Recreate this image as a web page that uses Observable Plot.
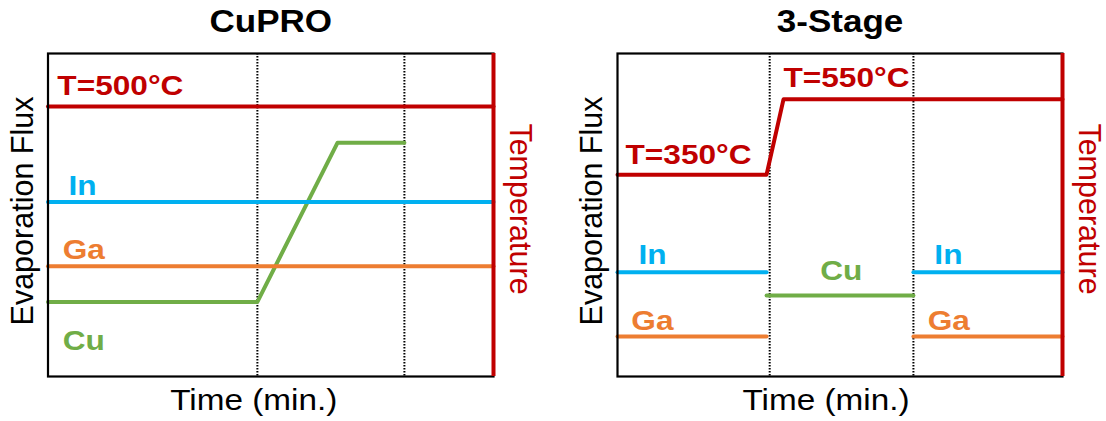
<!DOCTYPE html>
<html><head><meta charset="utf-8">
<script src="https://cdn.jsdelivr.net/npm/d3@7"></script>
<script src="https://cdn.jsdelivr.net/npm/@observablehq/plot@0.6"></script>
<style>
body{margin:0;background:#fff;}
#wrap{display:flex;width:1106px;height:421px;}
#wrap svg{display:block;}
</style></head><body><div id="wrap"></div>
<script>
const RED = "#C00000", BLUE = "#00B0F0", ORANGE = "#ED7D31", GREEN = "#70AD47";
const seriesNames = ["T", "In", "Ga", "Cu"];
const seriesColors = [RED, BLUE, ORANGE, GREEN];

// ---- CuPRO panel ----
const cuproStages = [47, 80];
const cuproTemp = [{t: 0, v: 83.6}, {t: 100, v: 83.6}];
const cuproIn = [{t: 0, v: 54.0}, {t: 100, v: 54.0}];
const cuproGa = [{t: 0, v: 34.1}, {t: 100, v: 34.1}];
const cuproCu = [{t: 0, v: 23.1}, {t: 47, v: 23.1}, {t: 65, v: 72.4}, {t: 80, v: 72.4}];
const cuproLabels = [
  {t: 2.1, v: 89.8, s: "T", text: "T=500°C", anchor: "start"},
  {t: 4.6, v: 59.1, s: "In", text: "In", anchor: "start"},
  {t: 3.3, v: 39.3, s: "Ga", text: "Ga", anchor: "start"},
  {t: 3.3, v: 11.1, s: "Cu", text: "Cu", anchor: "start"}
];

// ---- 3-Stage panel ----
const stageStages = [34.2, 66.5];
const stageTemp = [{t: 0, v: 62.5}, {t: 33.5, v: 62.5}, {t: 37.3, v: 85.8}, {t: 100, v: 85.8}];
const stageIn = [{seg: 1, t: 0, v: 32.3}, {seg: 1, t: 33.5, v: 32.3}, {seg: 2, t: 66.5, v: 32.3}, {seg: 2, t: 100, v: 32.3}];
const stageGa = [{seg: 1, t: 0, v: 12.4}, {seg: 1, t: 33.5, v: 12.4}, {seg: 2, t: 66.5, v: 12.4}, {seg: 2, t: 100, v: 12.4}];
const stageCu = [{t: 33.5, v: 25.1}, {t: 66.5, v: 25.1}];
const stageLabels = [
  {t: 1.8, v: 68.7, s: "T", text: "T=350°C", anchor: "start"},
  {t: 37.3, v: 92.3, s: "T", text: "T=550°C", anchor: "start"},
  {t: 4.7, v: 37.5, s: "In", text: "In", anchor: "start"},
  {t: 71.2, v: 37.5, s: "In", text: "In", anchor: "start"},
  {t: 3.1, v: 17.3, s: "Ga", text: "Ga", anchor: "start"},
  {t: 69.7, v: 17.3, s: "Ga", text: "Ga", anchor: "start"},
  {t: 50.3, v: 32.8, s: "Cu", text: "Cu", anchor: "middle"}
];

const titles = ["CuPRO", "3-Stage"];
const xLabel = "Time (min.)";
const yLabel = "Evaporation Flux";
const y2Label = "Temperature";

function panel({title, stages, temp, inn, ga, cu, labels, marginLeft, marginRight, timeDx}) {
  const lineOpts = {x: "t", y: "v", strokeWidth: 4, curve: "linear"};
  const labelOpts = {x: "t", y: "v", text: "text", fill: "s", lineAnchor: "middle", fontWeight: "bold", fontSize: 28};
  const svg = Plot.plot({
    width: 553, height: 421,
    marginLeft, marginRight, marginTop: 53, marginBottom: 45,
    x: {domain: [0, 100], axis: null},
    y: {domain: [0, 100], axis: null},
    color: {domain: seriesNames, range: seriesColors},
    style: {fontFamily: "'Liberation Sans', Arial, sans-serif", background: "white", overflow: "visible"},
    marks: [
      Plot.ruleX(stages, {stroke: "black", strokeWidth: 2, strokeDasharray: "1.5,1.5"}),
      Plot.line(cu, {...lineOpts, stroke: GREEN}),
      Plot.line(temp, {...lineOpts, stroke: RED}),
      Plot.line(inn, {...lineOpts, z: "seg", stroke: BLUE}),
      Plot.line(ga, {...lineOpts, z: "seg", stroke: ORANGE}),
      Plot.frame({stroke: "black", strokeWidth: 2.2}),
      Plot.ruleX([100], {stroke: RED, strokeWidth: 4}),
      Plot.text(labels.filter(d => d.anchor === "start"), {...labelOpts, textAnchor: "start"}),
      Plot.text(labels.filter(d => d.anchor === "middle"), {...labelOpts, textAnchor: "middle"}),
      Plot.text([title], {text: d => d, frameAnchor: "top", textAnchor: "middle", lineAnchor: "middle", dy: -31, fontWeight: "bold", fontSize: 31, fill: "black"}),
      Plot.text([xLabel], {text: d => d, frameAnchor: "bottom", textAnchor: "middle", lineAnchor: "middle", dy: 24, dx: timeDx, fontSize: 29.5, fill: "black"}),
      Plot.text([yLabel], {text: d => d, frameAnchor: "left", textAnchor: "middle", lineAnchor: "middle", rotate: -90, dx: -25, dy: -4, fontSize: 30.5, fill: "black"}),
      Plot.text([y2Label], {text: d => d, frameAnchor: "right", textAnchor: "middle", lineAnchor: "middle", rotate: 90, dx: 26, dy: -6, fontSize: 30.5, fill: RED})
    ]
  });
  // the reference lettering is slightly wider than Arial: stretch horizontal texts a bit
  svg.querySelectorAll("text").forEach(t => {
    const tr = t.getAttribute("transform");
    if (!tr || /rotate/.test(tr)) return;
    t.setAttribute("transform", `${tr} scale(1.13,1)`);
  });
  return svg;
}

const wrap = document.getElementById("wrap");
wrap.appendChild(panel({title: titles[0], stages: cuproStages, temp: cuproTemp, inn: cuproIn, ga: cuproGa, cu: cuproCu, labels: cuproLabels, marginLeft: 47.5, marginRight: 60, timeDx: -17}));
wrap.appendChild(panel({title: titles[1], stages: stageStages, temp: stageTemp, inn: stageIn, ga: stageGa, cu: stageCu, labels: stageLabels, marginLeft: 64, marginRight: 44, timeDx: -14}));
</script></body></html>
